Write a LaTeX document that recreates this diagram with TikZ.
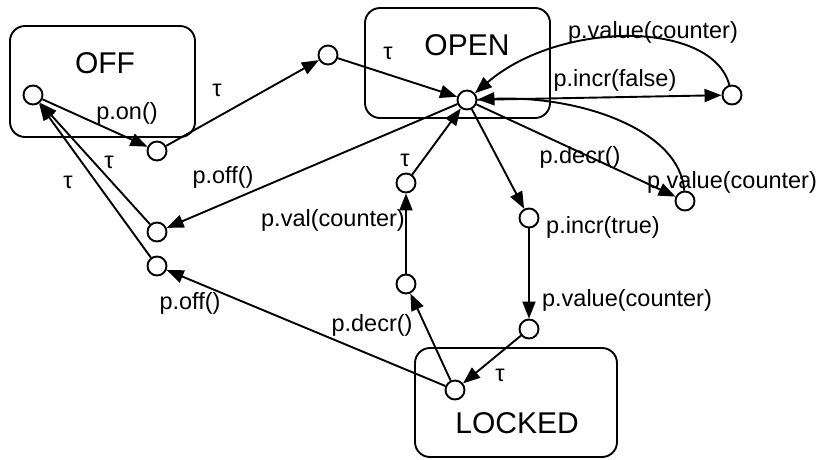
\documentclass[tikz,border=0pt]{standalone}
\usepackage{fontspec}
\setmainfont{Liberation Sans}
\usetikzlibrary{arrows.meta}
\begin{document}
\begin{tikzpicture}[x=1pt,y=-1pt,
  statebox/.style={draw, line width=1.9pt, rounded corners=15pt, inner sep=0pt},
  loc/.style={circle, draw, fill=white, line width=1.9pt, minimum size=19pt, inner sep=0pt},
  big/.style={font=\fontsize{30}{30}\selectfont, inner sep=0pt},
  lbl/.style={font=\fontsize{23.5}{23.5}\selectfont, inner sep=0pt},
  tr/.style={line width=1.9pt, -{Triangle[length=17pt,width=13pt]}}
]
\useasboundingbox (0,0) rectangle (822,459);

% state boxes
\node[statebox, minimum width=185pt, minimum height=111pt] (off) at (102.5,81.5) {};
\node[statebox, minimum width=185pt, minimum height=110pt] (open) at (457.5,63) {};
\node[statebox, minimum width=202pt, minimum height=109pt] (locked) at (516,402.5) {};
\node[big] (offtxt) at (105,63) {OFF};
\node[big] (opentxt) at (467,45) {OPEN};
\node[big] (lockedtxt) at (517,423) {LOCKED};

% locations
\node[loc] (c0) at (33,95) {};
\node[loc] (c1) at (157,151) {};
\node[loc] (c2) at (328,55) {};
\node[loc] (c3) at (467,100) {};
\node[loc] (c4) at (732,95) {};
\node[loc] (c5) at (685,201) {};
\node[loc] (c6) at (406,183) {};
\node[loc] (c7) at (529,218) {};
\node[loc] (c8) at (157,232) {};
\node[loc] (c9) at (157,266) {};
\node[loc] (c10) at (406,284) {};
\node[loc] (c11) at (529,329) {};
\node[loc] (c12) at (455,390) {};

% transitions
\draw[tr] (c0) -- (c1);
\draw[tr] (c1) -- (c2);
\draw[tr] (c2) -- (c3);
\draw[tr] (c3) -- (c8);
\draw[tr] (c8) -- (c0);
\draw[tr] (c9) -- (c0);
\draw[tr] (c3) -- (c4);
\draw[tr] (c4) .. controls (712,20) and (560,20) .. (c3);
\draw[tr] (c3) -- (c5);
\draw[tr] (c5) .. controls (680,130) and (580,95) .. (c3);
\draw[tr] (c3) -- (c7);
\draw[tr] (c7) -- (c11);
\draw[tr] (c11) -- (c12);
\draw[tr] (c12) -- (c10);
\draw[tr] (c10) -- (c6);
\draw[tr] (c6) -- (c3);
\draw[tr] (c12) -- (c9);

% transition labels
\node[lbl] (l1) at (127,113) {p.on()};
\node[lbl] (l2) at (217,90) {τ};
\node[lbl] (l3) at (388,53) {τ};
\node[lbl] (l4) at (223,177) {p.off()};
\node[lbl] (l5) at (109,162) {τ};
\node[lbl] (l6) at (68,182) {τ};
\node[lbl] (l7) at (653,32) {p.value(counter)};
\node[lbl] (l8) at (615,80) {p.incr(false)};
\node[lbl] (l9) at (580,157) {p.decr()};
\node[lbl] (l10) at (732,182) {p.value(counter)};
\node[lbl] (l11) at (603,227) {p.incr(true)};
\node[lbl] (l12) at (627,300) {p.value(counter)};
\node[lbl] (l13) at (405,160) {τ};
\node[lbl] (l14) at (333,220) {p.val(counter)};
\node[lbl] (l15) at (372,325) {p.decr()};
\node[lbl] (l16) at (500,375) {τ};
\node[lbl] (l17) at (190,303) {p.off()};
\end{tikzpicture}
\end{document}
